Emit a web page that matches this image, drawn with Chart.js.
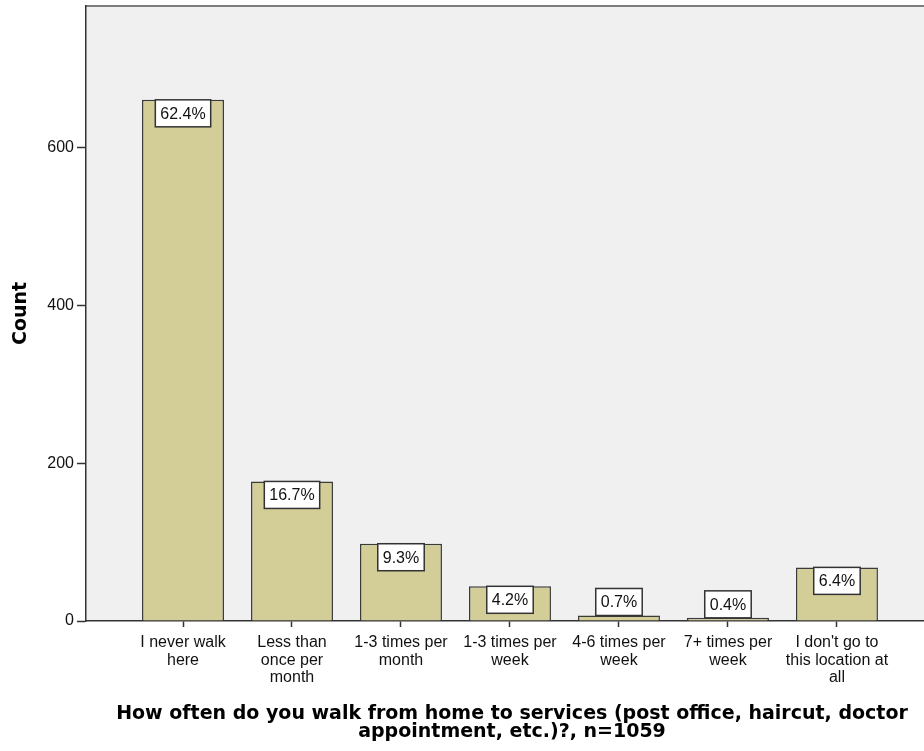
<!DOCTYPE html>
<html>
<head>
<meta charset="utf-8">
<script src="https://cdn.jsdelivr.net/npm/chart.js@4"></script>
<style>
  html, body { margin: 0; padding: 0; background: #fff; overflow: hidden; }
  #wrap { position: relative; width: 938px; height: 751px; }
</style>
</head>
<body>
<div id="wrap"><canvas id="walkChart"></canvas></div>
<script>
// --- data
const categories = [
    ['I never walk', 'here'],
    ['Less than', 'once per', 'month'],
    ['1-3 times per', 'month'],
    ['1-3 times per', 'week'],
    ['4-6 times per', 'week'],
    ['7+ times per', 'week'],
    ["I don't go to", 'this location at', 'all']
];
const counts = [661, 177, 98, 44, 7, 4, 68];
const percents = [62.4, 16.7, 9.3, 4.2, 0.7, 0.4, 6.4];
const yTicks = [0, 200, 400, 600];
const xTitle = ['How often do you walk from home to services (post office, haircut, doctor', 'appointment, etc.)?, n=1059'];
const yTitle = 'Count';

const tickFont = { family: 'Liberation Sans, Arial, sans-serif', size: 16, lineHeight: '17.5px' };
const titleFont = { family: 'DejaVu Sans, Verdana, sans-serif', size: 19, weight: 'bold', lineHeight: '18px' };

// plot background + top frame line
const plotBackground = {
    id: 'plotBackground',
    beforeDraw(chart) {
        const { ctx, chartArea: a } = chart;
        ctx.save();
        ctx.fillStyle = '#f0f0f0';
        ctx.fillRect(a.left, a.top, a.right - a.left, a.bottom - a.top);
        ctx.strokeStyle = '#7d7d7d';
        ctx.lineWidth = 2;
        ctx.beginPath();
        ctx.moveTo(a.left, a.top);
        ctx.lineTo(a.right, a.top);
        ctx.stroke();
        ctx.restore();
    }
};

// boxed percentage labels on the bars
const pctLabels = {
    id: 'pctLabels',
    afterDatasetsDraw(chart) {
        const { ctx } = chart;
        const meta = chart.getDatasetMeta(0);
        ctx.save();
        ctx.font = '16px "Liberation Sans", Arial, sans-serif';
        ctx.textAlign = 'center';
        ctx.textBaseline = 'middle';
        meta.data.forEach((bar, i) => {
            const txt = percents[i].toFixed(1) + '%';
            const w = ctx.measureText(txt).width + 10;
            const h = 27;
            const barH = bar.base - bar.y;
            const top = barH >= h ? bar.y : bar.y - h;
            ctx.fillStyle = '#ffffff';
            ctx.fillRect(bar.x - w / 2, top, w, h);
            ctx.strokeStyle = '#333333';
            ctx.lineWidth = 1.5;
            ctx.strokeRect(bar.x - w / 2, top, w, h);
            ctx.fillStyle = '#111111';
            ctx.fillText(txt, bar.x, top + h / 2 + 1);
        });
        ctx.restore();
    }
};

const ctx = document.getElementById('walkChart').getContext('2d');
new Chart(ctx, {
    type: 'bar',
    data: {
        datasets: [{
            data: counts.map((v, i) => ({ x: i, y: v })),
            backgroundColor: '#d3ce98',
            borderColor: '#3a3a3a',
            borderWidth: 1.5,
            borderSkipped: 'bottom',
            barPercentage: 0.752,
            categoryPercentage: 1
        }]
    },
    options: {
        responsive: true,
        maintainAspectRatio: false,
        animation: false,
        layout: { padding: { top: 6, left: 0, right: 0, bottom: 0 } },
        plugins: {
            legend: { display: false },
            tooltip: { enabled: false }
        },
        scales: {
            x: {
                type: 'linear',
                min: -0.89,
                max: 6.927,
                offset: false,
                afterBuildTicks: (scale) => { scale.ticks = categories.map((c, i) => ({ value: i })); },
                afterFit: (scale) => { scale.height = 130; scale.paddingLeft = 0; scale.paddingRight = 0; },
                ticks: {
                    autoSkip: false,
                    maxRotation: 0,
                    minRotation: 0,
                    padding: 7,
                    color: '#111',
                    font: tickFont,
                    callback: (v) => categories[v]
                },
                grid: { offset: false, drawOnChartArea: false, drawTicks: true, tickLength: 6, tickColor: '#333', tickWidth: 1.5 },
                border: { display: true, color: '#333', width: 1.5 },
                title: {
                    display: true,
                    text: xTitle,
                    color: '#000',
                    font: titleFont,
                    padding: { top: 0, bottom: 10 }
                }
            },
            y: {
                min: 0,
                max: 780,
                afterBuildTicks: (scale) => { scale.ticks = yTicks.map(v => ({ value: v })); },
                afterFit: (scale) => { scale.width = 86; scale.paddingTop = 0; scale.paddingBottom = 0; },
                ticks: { padding: 3, color: '#111', font: tickFont },
                grid: { drawOnChartArea: false, drawTicks: true, tickLength: 9, tickColor: '#333', tickWidth: 1.5 },
                border: { display: true, color: '#333', width: 1.5 },
                title: {
                    display: true,
                    text: yTitle,
                    color: '#000',
                    font: titleFont,
                    padding: { top: 12, bottom: 0 }
                }
            }
        }
    },
    plugins: [plotBackground, pctLabels]
});
</script>
</body>
</html>
